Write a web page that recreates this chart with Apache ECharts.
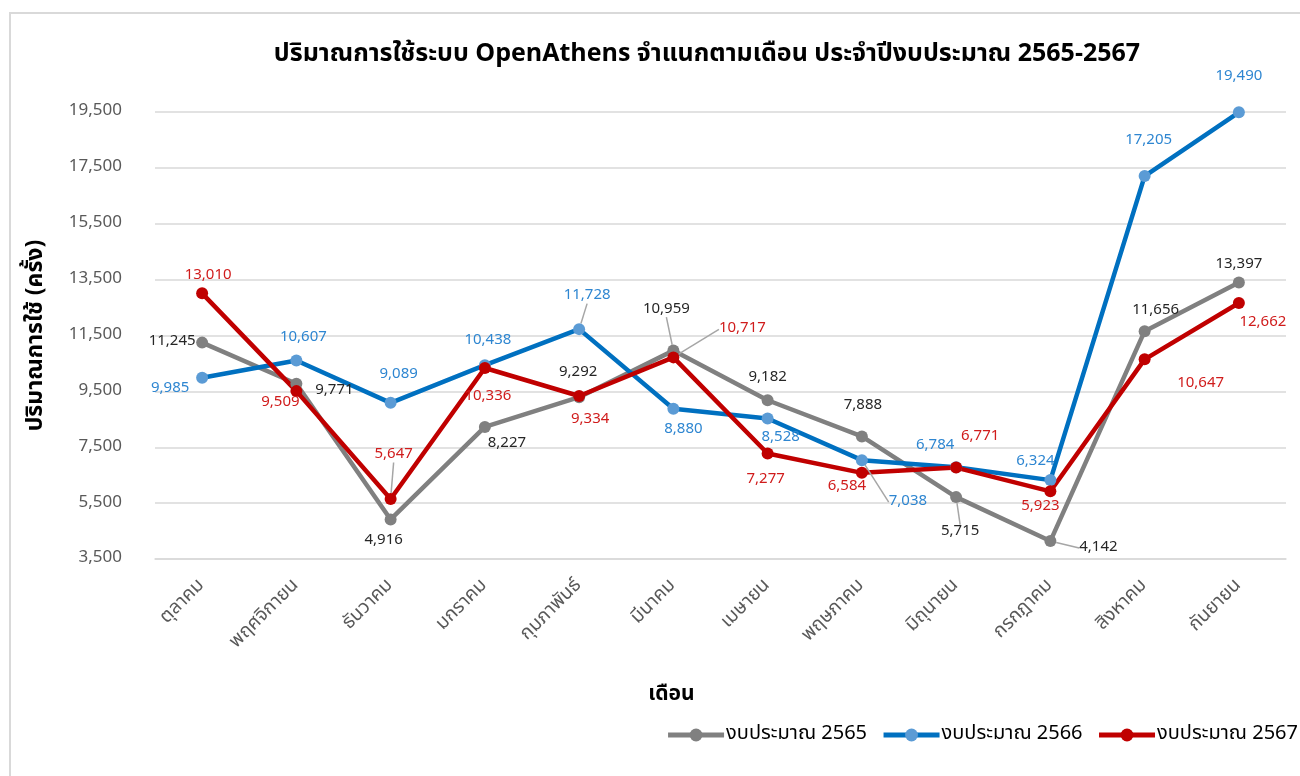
<!DOCTYPE html>
<html>
<head>
<meta charset="utf-8">
<script src="https://cdn.jsdelivr.net/npm/echarts@6/dist/echarts.min.js"></script>
<style>
  html, body { margin: 0; padding: 0; background: #fff; }
  #main { width: 1300px; height: 776px; }
</style>
</head>
<body>
<div id="main"></div>
<script>
var months = ['ตุลาคม', 'พฤศจิกายน', 'ธันวาคม', 'มกราคม', 'กุมภาพันธ์', 'มีนาคม',
  'เมษายน', 'พฤษภาคม', 'มิถุนายน', 'กรกฎาคม', 'สิงหาคม', 'กันยายน'];
var yTicks = [3500, 5500, 7500, 9500, 11500, 13500, 15500, 17500, 19500];

var names = ['งบประมาณ 2565', 'งบประมาณ 2566', 'งบประมาณ 2567'];
var y2565 = [11245, 9771, 4916, 8227, 9292, 10959, 9182, 7888, 5715, 4142, 11656, 13397];
var y2566 = [9985, 10607, 9089, 10438, 11728, 8880, 8528, 7038, 6784, 6324, 17205, 19490];
var y2567 = [13010, 9509, 5647, 10336, 9334, 10717, 7277, 6584, 6771, 5923, 10647, 12662];

// label offsets (px, from the point) - placement like the excel original
var off2565 = [[-30, -1], [38, 7], [-7, 22], [22, 17], [-1, -24], [-7, -41], [0, -22], [1, -30], [4, 35], [48, 7], [11, -20], [0, -18]];
var off2566 = [[-32, 11], [7, -22], [8, -28], [3, -24], [8, -33], [10, 21], [13, 19], [46, 42], [-21, -21], [-15, -18], [4, -35], [0, -35]];
var off2567 = [[6, -17], [-16, 12], [3, -44], [3, 29], [11, 24], [69, -28], [-2, 26], [-15, 14], [24, -31], [-10, 16], [56, 25], [24, 20]];
var leaders = [[5, 8, 9], [4, 7], [2, 5]];

var font = 'Tahoma, "Noto Sans Thai", "Noto Sans", "DejaVu Sans", sans-serif';

function mk(name, vals, offs, lead, lineColor, dotColor, labelColor) {
  return {
    name: name,
    type: 'line',
    data: vals.map(function (v, i) {
      var d = { value: v };
      if (lead.indexOf(i) >= 0) d.labelLine = { show: true };
      return d;
    }),
    symbol: 'circle',
    symbolSize: 12,
    lineStyle: { color: lineColor, width: 4.5 },
    itemStyle: { color: dotColor, borderWidth: 0 },
    label: {
      show: true,
      position: 'inside',
      color: labelColor,
      fontSize: 15,
      fontFamily: font,
      formatter: function (p) { return p.value.toLocaleString('en-US'); }
    },
    labelLine: { show: false, lineStyle: { color: '#a6a6a6', width: 1.5 } },
    labelLayout: function (p) {
      var o = offs[p.dataIndex];
      return { dx: o[0], dy: o[1] };
    },
    emphasis: { disabled: true },
    z: 2
  };
}

var chart = echarts.init(document.getElementById('main'));
chart.setOption({
  animation: false,
  color: ['#808080', '#0070c0', '#c00000'],
  textStyle: { fontFamily: font },
  title: {
    text: 'ปริมาณการใช้ระบบ OpenAthens จำแนกตามเดือน ประจำปีงบประมาณ 2565-2567',
    left: 702,
    top: 38,
    textAlign: 'center',
    textStyle: { fontSize: 25, fontWeight: 'bold', color: '#000', fontFamily: font }
  },
  graphic: [{
    type: 'rect',
    shape: { x: 10, y: 13, width: 1310, height: 800 },
    style: { fill: 'none', stroke: '#d9d9d9', lineWidth: 2 },
    silent: true
  }],
  legend: {
    right: -3,
    top: 720,
    itemWidth: 56,
    itemHeight: 16,
    itemGap: 14,
    lineStyle: { width: 5 },
    textStyle: { fontSize: 20, color: '#000', fontFamily: font, padding: [0, 0, 0, -3] },
    data: names
  },
  grid: { left: 155, right: 14, top: 112, bottom: 217 },
  xAxis: {
    type: 'category',
    data: months,
    name: 'เดือน',
    nameLocation: 'middle',
    nameGap: 126,
    nameTextStyle: { fontSize: 21, fontWeight: 'bold', color: '#000', padding: [0, 98, 0, 0] },
    axisLine: { show: true, lineStyle: { color: '#d9d9d9', width: 1.5 } },
    axisTick: { show: false },
    axisLabel: { rotate: 45, fontSize: 19, color: '#595959', margin: 24, interval: 0 }
  },
  yAxis: {
    type: 'value',
    min: 3500,
    max: 19500,
    name: 'ปริมาณการใช้ (ครั้ง)',
    nameLocation: 'middle',
    nameGap: 106,
    nameTextStyle: { fontSize: 23, fontWeight: 'bold', color: '#000' },
    axisLine: { show: false },
    axisTick: { show: false, customValues: yTicks },
    axisLabel: {
      customValues: yTicks,
      fontSize: 17,
      color: '#595959',
      margin: 33,
      formatter: function (v) { return v.toLocaleString('en-US'); }
    },
    splitLine: { show: true, lineStyle: { color: '#d9d9d9', width: 1.5 } }
  },
  series: [
    mk(names[0], y2565, off2565, leaders[0], '#808080', '#808080', '#262626'),
    mk(names[1], y2566, off2566, leaders[1], '#0070c0', '#5b9bd5', '#2e86d1'),
    mk(names[2], y2567, off2567, leaders[2], '#c00000', '#c00000', '#d01c1c')
  ]
});
</script>
</body>
</html>
